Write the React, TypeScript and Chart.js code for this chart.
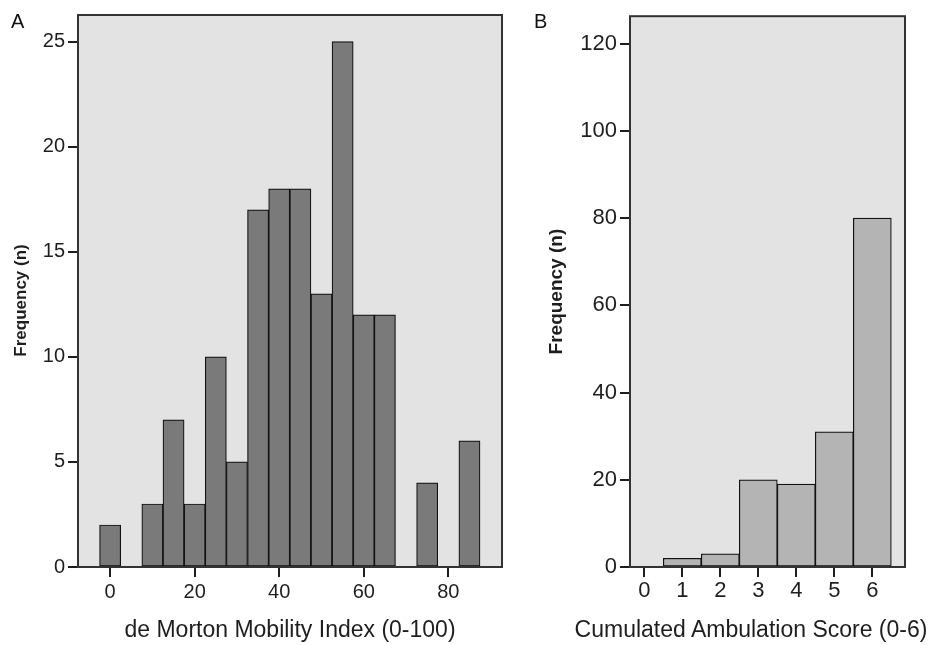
import React, { useEffect, useRef } from 'react';
import { Chart, registerables } from 'chart.js';

Chart.register(...registerables);

// Panel A: de Morton Mobility Index histogram (bin centres and counts)
const DMMI_BINS = [0, 10, 15, 20, 25, 30, 35, 40, 45, 50, 55, 60, 65, 75, 85];
const DMMI_FREQ = [2, 3, 7, 3, 10, 5, 17, 18, 18, 13, 25, 12, 12, 4, 6];
const DMMI_X_TICKS = [0, 20, 40, 60, 80];
const DMMI_Y_TICKS = [0, 5, 10, 15, 20, 25];

// Panel B: Cumulated Ambulation Score histogram
const CAS_SCORES = [0, 1, 2, 3, 4, 5, 6];
const CAS_FREQ = [0, 2, 3, 20, 19, 31, 80];
const CAS_X_TICKS = [0, 1, 2, 3, 4, 5, 6];
const CAS_Y_TICKS = [0, 20, 40, 60, 80, 100, 120];

const FONT = "'Liberation Sans', Arial, Helvetica, sans-serif";
const TEXT = '#1e1e1e';
const PLOT_BG = '#e3e3e3';
const FRAME = '#333333';

const framePlugin = {
  id: 'framePlugin',
  beforeDatasetsDraw(chart: any) {
    const { ctx, chartArea: a } = chart;
    ctx.save();
    ctx.fillStyle = PLOT_BG;
    ctx.fillRect(a.left, a.top, a.right - a.left, a.bottom - a.top);
    ctx.restore();
  },
  afterDatasetsDraw(chart: any) {
    const { ctx, chartArea: a } = chart;
    ctx.save();
    ctx.strokeStyle = FRAME;
    ctx.lineWidth = 2;
    ctx.strokeRect(a.left, a.top, a.right - a.left, a.bottom - a.top);
    ctx.restore();
  },
};

interface PanelCfg {
  xs: number[];
  ys: number[];
  xTicks: number[];
  yTicks: number[];
  xMin: number;
  xMax: number;
  yMax: number;
  barColor: string;
  xTitle: string | null;
  yTitle: string;
  yAxisWidth: number;
  padRight: number;
  tickFont: number;
  xTitleFont: number;
  yTitleFont: number;
  yTitlePad: number;
  xTickPad: number;
}

function Panel({ cfg, left, width }: { cfg: PanelCfg; left: number; width: number }) {
  const ref = useRef<HTMLCanvasElement>(null);
  useEffect(() => {
    if (!ref.current) return;
    const data = cfg.xs.map((x, i) => ({ x, y: cfg.ys[i] }));
    const chart = new Chart(ref.current, {
      type: 'bar',
      data: {
        datasets: [
          {
            data,
            backgroundColor: cfg.barColor,
            borderColor: '#111111',
            borderWidth: 1.2,
            borderSkipped: false,
            barPercentage: 1,
            categoryPercentage: 1,
          },
        ],
      },
      options: {
        responsive: false,
        maintainAspectRatio: false,
        animation: false,
        events: [],
        layout: { padding: { top: 14, right: cfg.padRight, left: 0, bottom: 0 } },
        plugins: {
          legend: { display: false },
          tooltip: { enabled: false },
          title: { display: false },
        },
        scales: {
          x: {
            type: 'linear',
            min: cfg.xMin,
            max: cfg.xMax,
            offset: false,
            afterBuildTicks: (s: any) => {
              s.ticks = cfg.xTicks.map((v) => ({ value: v }));
            },
            afterFit: (s: any) => {
              s.height = 78;
            },
            grid: {
              offset: false,
              drawOnChartArea: false,
              drawTicks: true,
              tickLength: 10,
              color: TEXT,
              lineWidth: 2,
            },
            border: { display: false },
            ticks: {
              color: TEXT,
              font: { family: FONT, size: cfg.tickFont },
              padding: cfg.xTickPad,
              maxRotation: 0,
              autoSkip: false,
            },
            title: {
              display: !!cfg.xTitle,
              text: cfg.xTitle || '',
              color: TEXT,
              font: { family: FONT, size: cfg.xTitleFont },
              padding: { top: 0, bottom: 1 },
            },
          },
          y: {
            type: 'linear',
            min: 0,
            max: cfg.yMax,
            afterBuildTicks: (s: any) => {
              s.ticks = cfg.yTicks.map((v) => ({ value: v }));
            },
            afterFit: (s: any) => {
              s.width = cfg.yAxisWidth;
            },
            grid: {
              drawOnChartArea: false,
              drawTicks: true,
              tickLength: 10,
              color: TEXT,
              lineWidth: 2,
            },
            border: { display: false },
            ticks: {
              color: TEXT,
              font: { family: FONT, size: cfg.tickFont },
              padding: 3,
            },
            title: {
              display: true,
              text: cfg.yTitle,
              color: TEXT,
              font: { family: FONT, size: cfg.yTitleFont, weight: 'bold' },
              padding: { top: cfg.yTitlePad, bottom: 0 },
            },
          },
        },
      },
      plugins: [framePlugin],
    } as any);
    return () => chart.destroy();
  }, [cfg]);
  return (
    <canvas
      ref={ref}
      width={width}
      height={645}
      style={{ position: 'absolute', left, top: 0, width, height: 645, display: 'block' }}
    />
  );
}

const PANEL_A: PanelCfg = {
  xs: DMMI_BINS,
  ys: DMMI_FREQ,
  xTicks: DMMI_X_TICKS,
  yTicks: DMMI_Y_TICKS,
  xMin: -7.6,
  xMax: 92.7,
  yMax: 26.27,
  barColor: '#7a7a7a',
  xTitle: 'de Morton Mobility Index (0-100)',
  yTitle: 'Frequency (n)    ',
  yAxisWidth: 78,
  padRight: 18,
  tickFont: 20,
  xTitleFont: 23,
  yTitleFont: 17,
  yTitlePad: 11,
  xTickPad: 3,
};

const PANEL_B: PanelCfg = {
  xs: CAS_SCORES,
  ys: CAS_FREQ,
  xTicks: CAS_X_TICKS,
  yTicks: CAS_Y_TICKS,
  xMin: -0.376,
  xMax: 6.86,
  yMax: 126.3,
  barColor: '#b4b4b4',
  xTitle: null,
  yTitle: 'Frequency (n)',
  yAxisWidth: 110,
  padRight: 36,
  tickFont: 22,
  xTitleFont: 23,
  yTitleFont: 19,
  yTitlePad: 25,
  xTickPad: 1,
};

const CAS_X_TITLE = 'Cumulated Ambulation Score (0-6)';

export default function App() {
  const labelStyle: React.CSSProperties = {
    position: 'absolute',
    fontFamily: FONT,
    fontSize: 20,
    lineHeight: '20px',
    color: '#111',
  };
  return (
    <div style={{ position: 'absolute', left: 0, top: 0, width: 941, height: 645, background: '#fff', overflow: 'hidden' }}>
      <Panel cfg={PANEL_A} left={0} width={520} />
      <Panel cfg={PANEL_B} left={520} width={421} />
      <div style={{ ...labelStyle, left: 11, top: 11 }}>A</div>
      <div style={{ ...labelStyle, left: 534, top: 11 }}>B</div>
      <div
        style={{
          position: 'absolute',
          left: 551,
          width: 400,
          top: 618,
          textAlign: 'center',
          fontFamily: FONT,
          fontSize: 23,
          lineHeight: '23px',
          color: TEXT,
          whiteSpace: 'nowrap',
        }}
      >
        {CAS_X_TITLE}
      </div>
    </div>
  );
}
